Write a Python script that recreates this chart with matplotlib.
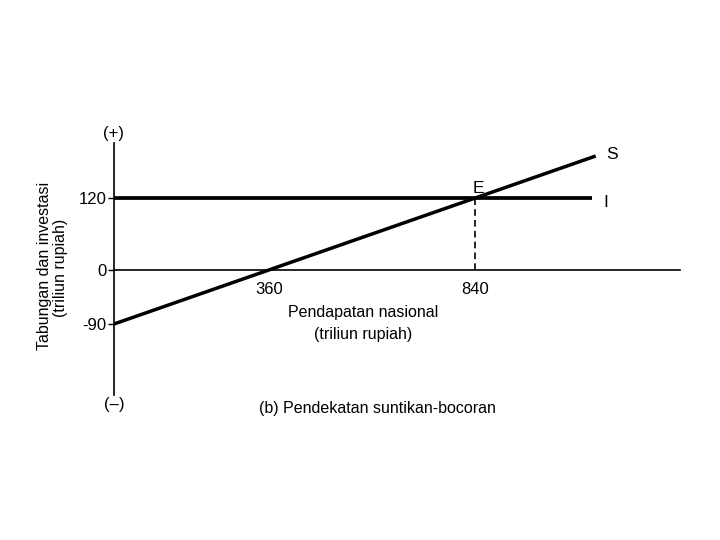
import matplotlib.pyplot as plt
import matplotlib.font_manager as fm

# font: narrow sans if present
names = {f.name for f in fm.fontManager.ttflist}
font = 'Liberation Sans Narrow' if 'Liberation Sans Narrow' in names else 'Liberation Sans'
plt.rcParams['font.family'] = [font, 'DejaVu Sans']

# Data (triliun rupiah)
income_s = [0, 360, 840, 1120]        # pendapatan nasional for S line
saving = [-90, 0, 120, 190]           # tabungan
income_i = [0, 1112]                  # pendapatan nasional for I line
investment = [120, 120]               # investasi
eq_income = 840
eq_value = 120
x_ticks = [360, 840]
y_ticks = [-90, 0, 120]

fs = 11.5

fig = plt.figure(figsize=(7.2, 5.4), dpi=100)
ax = fig.add_axes([0, 0, 1, 1])
ax.set_xlim(-265, 1409)
ax.set_ylim(-450, 450)

# axes through origin
for s in ['top', 'right']:
    ax.spines[s].set_visible(False)
ax.spines['left'].set_position(('data', 0))
ax.spines['bottom'].set_position(('data', 0))
ax.spines['left'].set_bounds(-208, 212)
ax.spines['bottom'].set_bounds(0, 1316)
ax.spines['left'].set_linewidth(1.2)
ax.spines['bottom'].set_linewidth(1.2)

ax.set_yticks(y_ticks)
ax.set_yticklabels([str(v) for v in y_ticks])
ax.set_xticks(x_ticks)
ax.set_xticklabels([str(v) for v in x_ticks])
ax.tick_params(axis='y', direction='out', length=4, width=1, pad=1.5, labelsize=12)
ax.tick_params(axis='x', length=0, pad=9, labelsize=12)

# S and I lines
ax.plot(income_s, saving, color='black', lw=2.5, solid_capstyle='butt')
ax.plot(income_i, investment, color='black', lw=2.7, solid_capstyle='butt')
ax.plot([eq_income, eq_income], [0, eq_value], color='black', lw=1.2,
        linestyle=(0, (4, 2.5)))

ax.text(income_s[-1] + 25, saving[-1] + 2, 'S', fontsize=12.5, ha='left', va='center')
ax.text(income_i[-1] + 25, investment[0] - 8, 'I', fontsize=12.5, ha='left', va='center')
ax.text(eq_income + 8, eq_value + 4, 'E', fontsize=12.5, ha='center', va='bottom')

# axis labels
ax.text(0, 215, '(+)', fontsize=12, ha='center', va='bottom')
ax.text(0, -212, '(–)', fontsize=12, ha='center', va='top')
fig.text(45 / 720, 1 - 266 / 540, 'Tabungan dan investasi', rotation=90,
         fontsize=fs, ha='center', va='center')
fig.text(61 / 720, 1 - 268 / 540, '(triliun rupiah)', rotation=90,
         fontsize=fs, ha='center', va='center')
fig.text(363 / 720, 1 - 312 / 540, 'Pendapatan nasional', fontsize=fs,
         ha='center', va='center')
fig.text(363 / 720, 1 - 334 / 540, '(triliun rupiah)', fontsize=fs,
         ha='center', va='center')
fig.text(377 / 720, 1 - 408 / 540, '(b) Pendekatan suntikan-bocoran', fontsize=fs,
         ha='center', va='center')

fig.savefig('out.png', dpi=100, facecolor='white')
